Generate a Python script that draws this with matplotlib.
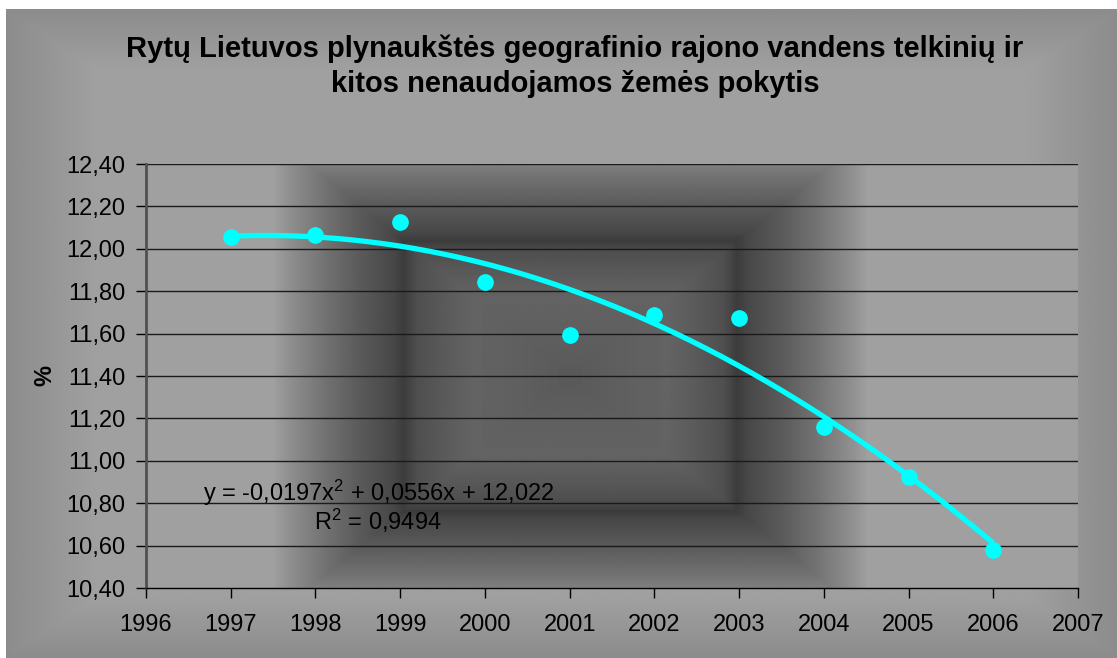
import numpy as np
import matplotlib
matplotlib.use('Agg')
import matplotlib.pyplot as plt

plt.rcParams['font.family'] = ['Liberation Sans', 'DejaVu Sans']
plt.rcParams['mathtext.fontset'] = 'custom'
plt.rcParams['mathtext.rm'] = 'Liberation Sans'
plt.rcParams['mathtext.it'] = 'Liberation Sans'
plt.rcParams['mathtext.bf'] = 'Liberation Sans:bold'

# data
years = [1997, 1998, 1999, 2000, 2001, 2002, 2003, 2004, 2005, 2006]
values = [12.058, 12.065, 12.126, 11.843, 11.593, 11.690, 11.674, 11.159, 10.924, 10.578]
yticks = [10.4, 10.6, 10.8, 11.0, 11.2, 11.4, 11.6, 11.8, 12.0, 12.2, 12.4]
xticks = list(range(1996, 2008))
title = "Rytų Lietuvos plynaukštės geografinio rajono vandens telkinių ir\nkitos nenaudojamos žemės pokytis"
eq_text = r"y = -0,0197x$^{2}$ + 0,0556x + 12,022"
r2_text = r"R$^{2}$ = 0,9494"

W, H = 1117, 658
fig = plt.figure(figsize=(W / 100, H / 100), dpi=100, facecolor='white')

# chart area background (slightly darker at the edges)
bg = fig.add_axes([0, 0, 1, 1], zorder=-5)
bg.set_xlim(0, W)
bg.set_ylim(H, 0)
bg.axis('off')
gx = np.linspace(0, 1, 400)
gy = np.linspace(0, 1, 250)
GX, GY = np.meshgrid(gx, gy)
edge = np.minimum(np.minimum(GX, 1 - GX) * 1111 / 90, np.minimum(GY, 1 - GY) * 650 / 60)
edge = np.clip(edge, 0, 1)
shade = 0.55 + 0.078 * edge
bg.imshow(shade, cmap='gray', vmin=0, vmax=1, extent=(6, W, H, 9), aspect='auto',
          interpolation='bilinear')

# plot area
ax = fig.add_axes([146 / W, 1 - 588 / H, (1078 - 146) / W, (588 - 164) / H])
ax.set_facecolor('#a0a0a0')

# rectangular gradient in the middle of the plot area
u = np.linspace(-1, 1, 600)
v = np.linspace(-1, 1, 430)
U, V = np.meshgrid(u, v)
d = np.maximum(np.abs(U) * 1.06, np.abs(V) * 0.94)
dp = [0.0, 0.155, 0.35, 0.456, 0.55, 0.60, 0.636, 0.755, 0.873, 0.995, 1.07]
cp = [0.35, 0.37, 0.39, 0.353, 0.31, 0.235, 0.28, 0.353, 0.44, 0.55, 0.627]
img = np.interp(d, dp, cp)
ax.imshow(img, cmap='gray', vmin=0, vmax=1, extent=(1997.52, 2004.49, 10.4, 12.4),
          aspect='auto', interpolation='bilinear', zorder=0)

ax.set_xlim(1996, 2007)
ax.set_ylim(10.4, 12.4)
ax.set_yticks(yticks)
ax.set_yticklabels([f"{t:.2f}".replace('.', ',') for t in yticks])
ax.set_xticks(xticks)
ax.set_xticklabels([str(t) for t in xticks])
ax.tick_params(axis='both', labelsize=17, color='black', length=7, width=1, direction='out')
ax.tick_params(axis='x', pad=12)
ax.tick_params(axis='y', pad=8)

for t in yticks[1:]:
    ax.axhline(t, color='#1a1a1a', lw=1, zorder=1)

for s in ['top', 'right']:
    ax.spines[s].set_visible(False)
ax.spines['left'].set_color('#505050')
ax.spines['left'].set_linewidth(2)
ax.spines['bottom'].set_color('black')
ax.spines['bottom'].set_linewidth(1)

# polynomial trendline (order 2, Excel style x = 1..n)
idx = np.arange(1, len(years) + 1)
coef = np.polyfit(idx, values, 2)
xf = np.linspace(1, len(years), 200)
yf = np.polyval(coef, xf)
ax.plot(xf + years[0] - 1, yf, color='#00ffff', lw=3.8, zorder=3, solid_capstyle='butt')
ax.plot(years, values, 'o', color='#00ffff', markersize=11, zorder=4)

ax.text(1998.75, 10.85, eq_text, fontsize=17, ha='center', va='center', zorder=5)
ax.text(1998.74, 10.715, r2_text, fontsize=17, ha='center', va='center', zorder=5)

ax.set_ylabel('%', fontsize=17, fontweight='bold', labelpad=7)

fig.text(575 / W, 1 - 66 / H, title, ha='center', va='center', fontsize=21,
         fontweight='bold', linespacing=1.3)

fig.savefig('out.png', dpi=100)
